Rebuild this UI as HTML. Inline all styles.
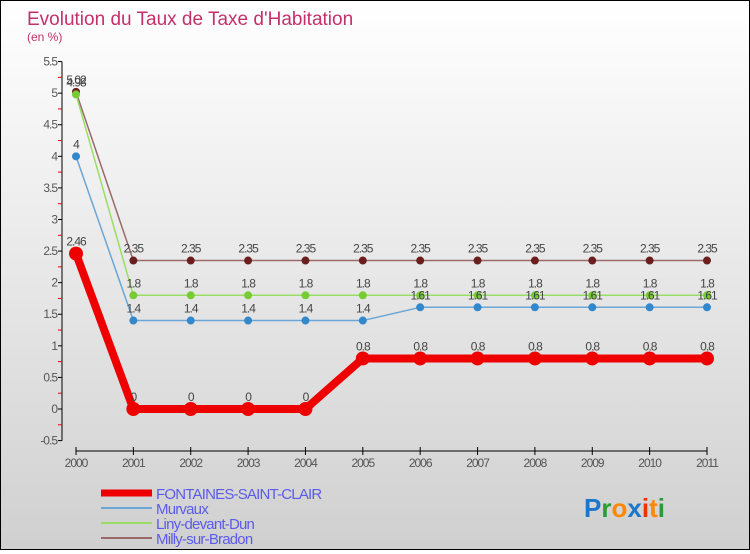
<!DOCTYPE html>
<html><head><meta charset="utf-8"><style>
html,body{margin:0;padding:0}
body{width:750px;height:550px;overflow:hidden;font-family:"Liberation Sans",sans-serif}
#wrap{position:relative;width:748px;height:548px;border:1px solid #000;background:linear-gradient(#ffffff,#d0d0d0)}
text{font-family:"Liberation Sans",sans-serif}
</style></head><body>
<div id="wrap">
<svg id="chart" width="748" height="548"></svg>
</div>
<script>
const years=[2000,2001,2002,2003,2004,2005,2006,2007,2008,2009,2010,2011];
const fontaines=[2.46,0,0,0,0,0.8,0.8,0.8,0.8,0.8,0.8,0.8];
const murvaux=[4,1.4,1.4,1.4,1.4,1.4,1.61,1.61,1.61,1.61,1.61,1.61];
const liny=[4.98,1.8,1.8,1.8,1.8,1.8,1.8,1.8,1.8,1.8,1.8,1.8];
const milly=[5.02,2.35,2.35,2.35,2.35,2.35,2.35,2.35,2.35,2.35,2.35,2.35];
const yTicks=[-0.5,0,0.5,1,1.5,2,2.5,3,3.5,4,4.5,5,5.5];
const yTickLabels=["-0.5","0","0.5","1","1.5","2","2.5","3","3.5","4","4.5","5","5.5"];

const svg=document.getElementById('chart');
const NS='http://www.w3.org/2000/svg';
function el(t,a,p){const e=document.createElementNS(NS,t);for(const k in a)e.setAttribute(k,a[k]);(p||svg).appendChild(e);return e;}
const x=i=>75+i*(631/11);
const y=v=>408-v*63.17;

// title
let t=el('text',{x:26,y:24,'font-size':19,fill:'#c4306a'});t.textContent="Evolution du Taux de Taxe d'Habitation";


t=el('text',{x:26,y:40,'font-size':12,fill:'#c4306a'});t.textContent="(en %)";



// y axis
const ya=el('line',{x1:61,y1:y(5.5),x2:61,y2:y(-0.5),stroke:'#000','stroke-width':1});


yTicks.forEach((v,i)=>{
 el('line',{x1:57,x2:61,y1:y(v),y2:y(v),stroke:'#000'});
 if(i<yTicks.length-1) el('line',{x1:57,x2:61,y1:y(v+0.25),y2:y(v+0.25),stroke:'#e00'});
 const l=el('text',{x:56,y:y(v)+4,'font-size':12,fill:'#555','text-anchor':'end','letter-spacing':'-1'});
 l.textContent=yTickLabels[i];
 
 
});
// x axis
const xa=el('line',{x1:x(0),x2:x(11),y1:450,y2:450,stroke:'#000'});


years.forEach((yr,i)=>{
 el('line',{x1:x(i),x2:x(i),y1:446,y2:454,stroke:'#000'});
 const l=el('text',{x:x(i),y:466,'font-size':12,fill:'#555','text-anchor':'middle','letter-spacing':'-1'});
 l.textContent=yr;
 
 
});

function series(vals,color,dot,w,r,name){
 const g=el('g',{});
 
 
 el('polyline',{points:vals.map((v,i)=>x(i)+','+y(v)).join(' '),fill:'none',stroke:color,'stroke-width':w,'stroke-linejoin':'round'},g);
 vals.forEach((v,i)=>{
  const c=el('circle',{cx:x(i),cy:y(v),r:r,fill:dot},g);
  
  
  const l=el('text',{x:x(i),y:y(v)-8,'font-size':12,fill:'#444','text-anchor':'middle','letter-spacing':'-1'},g);
  l.textContent=String(v);
  
  
 });
}
series(milly,'#9a6a6a','#6a1e1e',1.5,4,'series-milly');
series(liny,'#99dd66','#77cc33',1.5,4,'series-liny');
series(murvaux,'#6aa6d6','#3388cc',1.5,4,'series-murvaux');
series(fontaines,'#ee0000','#ee0000',8,7,'series-fontaines');

// legend
const leg=[['FONTAINES-SAINT-CLAIR','#ee0000',7],['Murvaux','#6aa6d6',2],['Liny-devant-Dun','#99dd66',2],['Milly-sur-Bradon','#9a6a6a',2]];
leg.forEach((d,i)=>{
 const g=el('g',{});
 
 
 const yy=492+i*15;
 el('line',{x1:100,x2:151,y1:yy,y2:yy,stroke:d[1],'stroke-width':d[2]},g);
 const l=el('text',{x:155,y:yy+6,'font-size':15,fill:'#5b5bea','letter-spacing':'-0.8'},g);
 l.textContent=d[0];
});

// logo
const logo=el('text',{x:583,y:516,'font-size':26,'font-weight':'bold'});


[['P','#1a77cc'],['r','#2a9a3a'],['o','#ff8800'],['x','#1a77cc'],['i','#ee3300'],['t','#ff8800'],['i','#2a9a3a']].forEach(c=>{
 const s=el('tspan',{fill:c[1]},logo);s.textContent=c[0];
});
</script>
</body></html>
